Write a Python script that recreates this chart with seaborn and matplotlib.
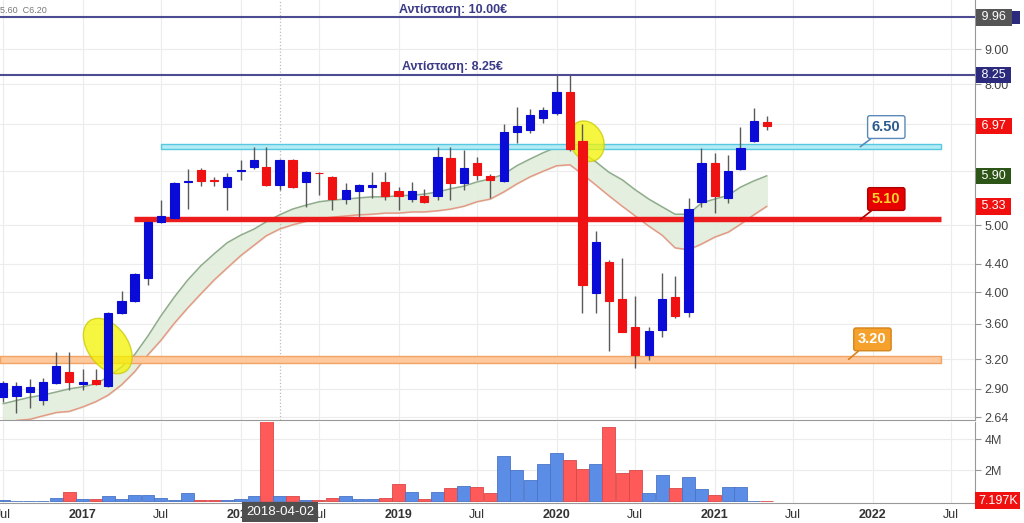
import matplotlib.pyplot as plt
import matplotlib.dates as mdates
import matplotlib.transforms as mtransforms
from matplotlib.patches import Ellipse, Rectangle
from matplotlib.ticker import NullLocator
import numpy as np
import pandas as pd
import seaborn as sns

# monthly candles, Jul 2016 - May 2021
months = pd.date_range("2016-07-01", "2021-05-01", freq="MS")
opens = [2.82, 2.83, 2.87, 2.79, 2.96, 3.07, 2.95, 2.99, 2.93, 3.74, 3.89, 4.20,
         5.06, 5.13, 5.77, 6.01, 5.82, 5.68, 6.00, 6.08, 6.08, 5.72, 6.22, 5.78,
         5.96, 5.88, 5.46, 5.61, 5.68, 5.78, 5.61, 5.46, 5.51, 5.51, 6.25, 5.76,
         6.16, 5.90, 5.80, 6.83, 6.87, 7.15, 7.27, 7.80, 6.62, 3.99, 4.43, 3.91,
         3.56, 3.25, 3.53, 3.94, 3.75, 5.40, 6.16, 5.48, 6.04, 6.63, 7.05]
highs = [2.98, 2.97, 3.00, 3.01, 3.28, 3.28, 3.10, 3.10, 3.75, 4.02, 4.27, 5.08,
         5.44, 5.78, 6.03, 6.05, 5.88, 5.95, 6.22, 6.50, 6.50, 6.24, 6.24, 5.99,
         5.97, 5.90, 5.76, 5.74, 5.97, 5.97, 5.68, 5.78, 5.65, 6.50, 6.50, 6.43,
         6.28, 5.93, 7.00, 7.42, 7.37, 7.42, 8.25, 8.25, 7.00, 4.90, 4.46, 4.48,
         3.95, 3.56, 4.27, 4.22, 5.47, 6.47, 6.37, 6.33, 6.95, 7.39, 7.20]
lows = [2.78, 2.68, 2.72, 2.75, 2.95, 2.89, 2.89, 2.94, 2.92, 3.72, 3.88, 4.10,
        5.04, 5.10, 5.28, 5.70, 5.70, 5.26, 5.82, 6.03, 5.70, 5.63, 5.66, 5.32,
        5.53, 5.26, 5.37, 5.14, 5.48, 5.44, 5.26, 5.40, 5.38, 5.44, 5.44, 5.63,
        5.82, 5.48, 5.78, 6.58, 6.80, 7.03, 7.22, 6.40, 3.74, 3.74, 3.29, 3.50,
        3.11, 3.19, 3.45, 3.67, 3.68, 5.32, 5.22, 5.38, 6.02, 6.60, 6.88]
closes = [2.96, 2.93, 2.92, 2.97, 3.13, 2.97, 2.97, 2.95, 3.73, 3.89, 4.25, 5.06,
          5.16, 5.76, 5.79, 5.80, 5.80, 5.87, 6.01, 6.22, 5.72, 6.22, 5.68, 5.97,
          5.95, 5.46, 5.63, 5.72, 5.72, 5.51, 5.51, 5.61, 5.40, 6.28, 5.76, 6.06,
          5.91, 5.82, 6.83, 6.97, 7.22, 7.35, 7.80, 6.45, 4.10, 4.73, 3.89, 3.51,
          3.25, 3.52, 3.91, 3.70, 5.29, 6.16, 5.51, 6.00, 6.47, 7.08, 6.97]
volumes_m = [0.08, 0.03, 0.02, 0.03, 0.20, 0.58, 0.13, 0.10, 0.35, 0.13, 0.40, 0.38,
             0.20, 0.05, 0.53, 0.05, 0.05, 0.05, 0.15, 0.32, 5.40, 0.32, 0.32, 0.05,
             0.05, 0.20, 0.35, 0.15, 0.15, 0.20, 1.10, 0.60, 0.15, 0.60, 0.85, 0.95,
             0.90, 0.50, 2.90, 2.00, 1.35, 2.40, 3.10, 2.65, 2.05, 2.40, 4.80, 1.80,
             2.00, 0.50, 1.70, 0.85, 1.55, 0.80, 0.40, 0.90, 0.90, 0.03, 0.0072]

# moving-average ribbon
band_upper = [2.76, 2.79, 2.82, 2.84, 2.87, 2.90, 2.92, 2.95, 3.02, 3.12, 3.25, 3.46,
              3.70, 3.94, 4.17, 4.37, 4.55, 4.72, 4.84, 4.94, 5.06, 5.18, 5.28, 5.35,
              5.41, 5.44, 5.46, 5.48, 5.50, 5.50, 5.52, 5.53, 5.55, 5.59, 5.65, 5.70,
              5.78, 5.84, 5.93, 6.10, 6.24, 6.37, 6.49, 6.56, 6.37, 6.18, 5.97, 5.82,
              5.63, 5.46, 5.32, 5.19, 5.19, 5.39, 5.46, 5.53, 5.68, 5.80, 5.90]
band_lower = [2.57, 2.61, 2.62, 2.65, 2.68, 2.69, 2.73, 2.78, 2.84, 2.94, 3.07, 3.25,
              3.41, 3.61, 3.80, 3.98, 4.17, 4.34, 4.52, 4.68, 4.83, 4.94, 5.01, 5.07,
              5.11, 5.14, 5.16, 5.18, 5.19, 5.21, 5.21, 5.23, 5.23, 5.25, 5.28, 5.33,
              5.41, 5.46, 5.59, 5.74, 5.88, 5.99, 6.10, 6.12, 5.93, 5.72, 5.52, 5.33,
              5.16, 4.99, 4.84, 4.64, 4.61, 4.70, 4.81, 4.89, 5.02, 5.18, 5.33]

price_ticks = [2.64, 2.90, 3.20, 3.60, 4.00, 4.40, 5.00, 6.00, 7.00, 8.00, 9.00]
# 6.00 and 7.00 sit under the last-value tags
price_labels = ["2.64", "2.90", "3.20", "3.60", "4.00", "4.40", "5.00", "", "", "8.00", "9.00"]
x_ticks = pd.to_datetime(["2016-07-01", "2017-01-01", "2017-07-01", "2018-01-01", "2018-07-01",
                          "2019-01-01", "2019-07-01", "2020-01-01", "2020-07-01", "2021-01-01",
                          "2021-07-01", "2022-01-01", "2022-07-01"])
x_labels = ["Jul", "2017", "Jul", "2018", "Jul", "2019", "Jul", "2020", "Jul", "2021", "Jul", "2022", "Jul"]

resistances = [10.00, 8.25]
resist_text = ["Αντίσταση: 10.00€", "Αντίσταση: 8.25€"]
last_values = [(10.00, "9.96", "#555555"), (8.25, "8.25", "#2c2a7c"), (6.97, "6.97", "#f01010"),
               (5.90, "5.90", "#2e5518"), (5.33, "5.33", "#f01010")]

df = pd.DataFrame({"date": months, "open": opens, "high": highs, "low": lows,
                   "close": closes, "volume": np.array(volumes_m) * 1e6,
                   "upper": band_upper, "lower": band_lower})
up = df["close"] >= df["open"]

sns.set_style("white")
plt.rcParams["font.family"] = ["Liberation Sans", "DejaVu Sans"]

fig = plt.figure(figsize=(10.24, 5.23), dpi=100)
ax = fig.add_axes([0, 1 - 420 / 523, 975 / 1024, 420 / 523])
axv = fig.add_axes([0, 1 - 503 / 523, 975 / 1024, 81 / 523], sharex=ax)

x0, x1 = pd.Timestamp("2016-06-24"), pd.Timestamp("2022-08-25")

# ribbon
ax.fill_between(df["date"], df["lower"], df["upper"], color="#e3eedc", alpha=0.9, zorder=1)
sns.lineplot(x=df["date"], y=df["upper"], ax=ax, color="#8fac8c", lw=1.1, zorder=2)
sns.lineplot(x=df["date"], y=df["lower"], ax=ax, color="#e49a86", lw=1.1, zorder=2)

# support / resistance zones
ax.fill_between([pd.Timestamp("2017-06-30"), pd.Timestamp("2022-06-07")], 6.50 / 1.009, 6.50 * 1.009,
                facecolor="#b4ecf6", edgecolor="#58c8e0", lw=1, zorder=2)
ax.hlines(5.10, pd.Timestamp("2017-04-29"), pd.Timestamp("2022-06-07"), color="#ec1c1c", lw=3.9, zorder=2)
ax.fill_between([x0, pd.Timestamp("2022-06-07")], 3.20 / 1.011, 3.20 * 1.011,
                facecolor="#fcc89c", edgecolor="#f2a464", lw=1, zorder=2)
for lvl, txt in zip(resistances, resist_text):
    ax.axhline(lvl, color="#4d4b91", lw=1.5, zorder=2)
    ax.text(pd.Timestamp("2019-05-06"), lvl * 1.006, txt, ha="center", va="bottom",
            fontsize=9, fontweight="bold", color="#3b3a86", zorder=6)

ax.axvline(pd.Timestamp("2018-04-01"), color="#bbbbbb", ls=":", lw=0.9, zorder=1)

# highlight ellipses
for cx, cy, w, h, ang in [(pd.Timestamp("2017-02-28"), 3.345, 0.62, 0.40, -54),
                          (pd.Timestamp("2020-03-11"), 6.62, 0.42, 0.33, -65)]:
    off = mtransforms.ScaledTranslation(mdates.date2num(cx), cy, ax.transData)
    ax.add_patch(Ellipse((0, 0), w, h, angle=ang, transform=fig.dpi_scale_trans + off,
                         facecolor="#f4f400", edgecolor="#c9c900", alpha=0.75, lw=1, zorder=3))

# candles
body_col = np.where(up, "#0b0bd8", "#f01212")
ax.vlines(df["date"], df["low"], df["high"], color="#5a5a5a", lw=1, zorder=4)
ax.bar(df["date"], (df["close"] - df["open"]).abs(), bottom=df[["open", "close"]].min(axis=1),
       width=19, color=body_col, edgecolor=body_col, lw=0.8, zorder=5)

# level tags
for lvl, ty, txt, fc, ec, tc, tx, px in [
        (6.50, 6.94, "6.50", "white", "#5a8ab8", "#2c5c8c", "2022-02-01", "2021-12-03"),
        (5.10, 5.46, "5.10", "#e60000", "#b00000", "#ffd42a", "2022-02-01", "2021-12-03"),
        (3.20, 3.42, "3.20", "#f5a12c", "#d4841c", "white", "2021-12-31", "2021-11-06")]:
    ax.annotate(txt, xy=(pd.Timestamp(px), lvl), xytext=(pd.Timestamp(tx), ty),
                ha="center", va="center", fontsize=10.5, fontweight="bold", color=tc, zorder=7,
                bbox=dict(boxstyle="round,pad=0.3,rounding_size=0.15", fc=fc, ec=ec, lw=1),
                arrowprops=dict(arrowstyle="-", color=ec, lw=1.2, shrinkA=0, shrinkB=0))

ax.set_yscale("log")
ax.set_ylim(2.614, 10.60)
ax.set_xlim(x0, x1)
ax.yaxis.tick_right()
ax.yaxis.set_minor_locator(NullLocator())
ax.set_yticks(price_ticks)
ax.set_yticklabels(price_labels)
ax.tick_params(axis="y", labelsize=9, labelcolor="#444444", length=4, color="#999999", pad=3)
ax.tick_params(axis="x", labelbottom=False, length=0)
ax.set_xticks(x_ticks)
ax.grid(True, color="#ececec", lw=0.8)
ax.set_xlabel("")
ax.set_ylabel("")
for s in ["top", "left"]:
    ax.spines[s].set_visible(False)
for s in ["right", "bottom"]:
    ax.spines[s].set_color("#999999")

trans = mtransforms.blended_transform_factory(ax.transAxes, ax.transData)
# second (navy) tag peeking out behind the 9.96 tag
ax.add_patch(Rectangle((1.004, 10.00 / 1.022), 0.042, 10.00 * 1.022 - 10.00 / 1.022, transform=trans,
                       facecolor="#2c2a7c", edgecolor="none", clip_on=False, zorder=9))
for val, txt, fc in last_values:
    ax.text(1.003, val, f" {txt} ", transform=trans, ha="left", va="center", fontsize=9, color="white",
            bbox=dict(boxstyle="square,pad=0.18", fc=fc, ec="none"), clip_on=False, zorder=10)
ax.text(0.0, 0.985, "5.60  C6.20", transform=ax.transAxes, fontsize=6.5, color="#777777", va="top")

# volume
vol_col = np.where(up, "#5b8de6", "#ff5a5a")
vol_edge = np.where(up, "#4a74c4", "#d84848")
axv.bar(df["date"], df["volume"], width=30, color=vol_col, edgecolor=vol_edge, lw=0.6, zorder=3)
axv.set_ylim(-0.13e6, 5.1e6)
axv.yaxis.tick_right()
axv.set_yticks([2e6, 4e6])
axv.set_yticklabels(["2M", "4M"])
axv.tick_params(axis="y", labelsize=9, labelcolor="#444444", length=4, color="#999999", pad=3)
axv.set_xticks(x_ticks)
axv.set_xticklabels(x_labels)
axv.tick_params(axis="x", labelsize=9, labelcolor="#333333", length=0, pad=4)
for lab in axv.get_xticklabels():
    if lab.get_text() != "Jul":
        lab.set_fontweight("bold")
axv.grid(True, color="#ececec", lw=0.8)
axv.set_xlabel("")
axv.set_ylabel("")
for s in ["top", "left"]:
    axv.spines[s].set_visible(False)
for s in ["right", "bottom"]:
    axv.spines[s].set_color("#999999")
vtrans = mtransforms.blended_transform_factory(axv.transAxes, axv.transData)
axv.text(1.003, 0.0, "7.197K", transform=vtrans, ha="left", va="center", fontsize=9, color="white",
         bbox=dict(boxstyle="square,pad=0.2", fc="#f01010", ec="none"), clip_on=False, zorder=10)

fig.text(280 / 1024, 1 - 512 / 523, "2018-04-02", ha="center", va="center", fontsize=9.5, color="white",
         bbox=dict(boxstyle="square,pad=0.3", fc="#4f4f4f", ec="none"), zorder=20)

fig.savefig("out.png", dpi=100)
